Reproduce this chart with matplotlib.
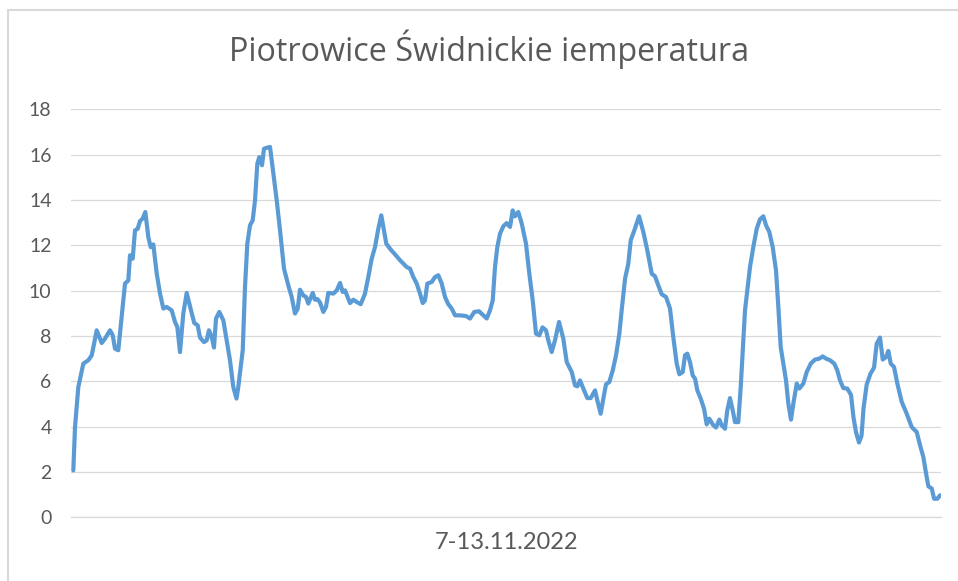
import matplotlib
matplotlib.use('Agg')
import matplotlib.pyplot as plt
from matplotlib.lines import Line2D

# hours since 7.11.2022 00:00 and temperature (deg C)
hours = [
    0.0, 0.33, 0.97, 1.94, 2.91, 3.57, 4.54, 5.50, 6.14, 7.11, 7.64, 8.08, 8.72,
    9.38, 10.02, 10.66, 10.99, 11.51, 11.96, 12.48, 12.93, 13.45, 13.96, 14.54,
    15.00, 15.51, 16.17, 16.81, 17.45, 18.10, 19.07, 19.71, 20.16, 20.68, 21.32,
    21.98, 22.81, 23.45, 24.11, 24.56, 25.33, 25.86, 26.30, 26.83, 27.27, 27.66,
    28.30, 29.08, 29.73, 30.37, 31.01, 31.63, 31.98, 32.84, 33.28, 33.73, 34.25,
    34.77, 35.22, 35.67, 36.05, 36.58, 36.96, 37.60, 38.13, 38.77, 39.43, 40.07,
    40.84, 41.68, 42.33, 42.97, 43.50, 43.94, 44.58, 45.11, 45.55, 46.41, 46.85,
    47.30, 47.82, 48.46, 48.98, 49.43, 50.40, 51.06, 51.70, 52.22, 52.67, 53.64,
    54.28, 54.93, 55.71, 56.54, 57.18, 57.84, 58.48, 59.12, 59.70, 60.09, 60.67,
    61.49, 62.36, 63.33, 64.63, 65.27, 65.91, 66.57, 67.20, 67.73, 68.17, 68.62,
    69.47, 70.11, 70.75, 71.41, 72.05, 72.69, 73.35, 73.99, 74.96, 76.12, 76.90,
    77.73, 78.64, 79.47, 80.13, 80.77, 81.30, 81.74, 82.19, 82.71, 83.35, 84.01,
    84.65, 85.17, 85.62, 86.26, 86.92, 87.75, 88.39, 89.05, 89.69, 90.33, 90.95,
    91.63, 92.07, 92.73, 93.37, 94.15, 94.98, 95.64, 96.61, 97.25, 97.70, 98.22,
    98.86, 99.63, 100.29, 101.13, 101.57, 102.23, 102.74, 103.26, 103.90, 104.56,
    105.20, 105.84, 106.36, 106.95, 107.58, 108.05, 108.75, 109.66, 110.49,
    111.26, 112.12, 112.76, 113.40, 114.05, 114.89, 115.66, 116.30, 116.96,
    117.47, 118.13, 118.57, 119.02, 119.54, 120.06, 120.51, 120.96, 121.61,
    122.25, 122.78, 123.28, 124.00, 124.58, 125.22, 125.68, 126.32, 126.77,
    127.29, 127.82, 128.26, 128.90, 129.37, 129.87, 130.20, 130.65, 131.17,
    131.81, 132.47, 133.11, 133.75, 134.28, 134.91, 135.57, 136.21, 136.66,
    137.12, 137.63, 138.15, 138.60, 139.12, 139.57, 140.23, 140.73, 141.51,
    142.16, 142.94, 143.77, 144.60, 145.26, 145.90, 146.68, 147.51, 148.09,
    148.62, 149.26, 150.03, 150.75, 151.23, 151.72, 152.30, 152.79, 153.17,
    153.79, 154.53, 155.21, 155.73, 156.37, 156.90, 157.54, 157.98, 158.45,
    159.09, 159.73, 160.58, 161.55, 162.52, 163.49, 164.13, 164.77, 165.30,
    165.74, 166.40, 166.85, 167.49, 168.0,
]
temps = [
    2.07, 3.98, 5.75, 6.78, 6.93, 7.15, 8.25, 7.69, 7.88, 8.25, 8.03, 7.44, 7.37,
    8.84, 10.31, 10.45, 11.56, 11.41, 12.66, 12.73, 13.07, 13.18, 13.47, 12.36,
    11.92, 12.04, 10.75, 9.87, 9.21, 9.28, 9.13, 8.62, 8.40, 7.29, 8.99,
    9.90, 9.13, 8.57, 8.47, 7.93, 7.73, 7.81, 8.25, 7.95, 7.49, 8.77,
    9.06, 8.69, 7.81, 6.93, 5.75, 5.24, 5.75, 7.37, 10.16, 12.07, 12.88,
    13.10, 13.98, 15.60, 15.89, 15.53, 16.26, 16.31, 16.34, 15.16, 13.98, 12.66,
    10.97, 10.23, 9.72, 8.99, 9.21, 10.04, 9.79, 9.72, 9.43, 9.90, 9.60,
    9.63, 9.48, 9.06, 9.28, 9.90, 9.87, 10.01, 10.34, 9.94, 10.01, 9.45,
    9.60, 9.50, 9.40, 9.87, 10.60, 11.41, 11.92, 12.73, 13.32, 12.81, 12.07,
    11.82, 11.60, 11.34, 11.04, 10.97, 10.60, 10.31, 9.87, 9.45, 9.57, 10.31,
    10.38, 10.60, 10.68, 10.31, 9.72, 9.40, 9.21, 8.91, 8.91, 8.88, 8.77,
    9.06, 9.09, 8.91, 8.77, 9.13, 9.57, 11.04, 11.92, 12.51, 12.84, 12.98,
    12.81, 13.54, 13.28, 13.47, 12.96, 12.07, 10.75, 9.57, 8.10, 8.03, 8.38,
    8.25, 7.81, 7.29, 7.81, 8.62, 7.88, 6.85, 6.41, 5.82, 5.78, 6.04,
    5.68, 5.26, 5.26, 5.60, 5.16, 4.57, 5.24, 5.87, 5.97, 6.48,
    7.15, 8.10, 9.28, 10.53, 11.19, 12.22, 12.66, 13.28, 12.59,
    11.78, 10.75, 10.63, 10.23, 9.84, 9.72, 9.21, 7.95, 6.78,
    6.31, 6.41, 7.15, 7.22, 6.85, 6.26, 6.12, 5.60, 5.24,
    4.80, 4.10, 4.35, 4.08, 3.96, 4.31, 4.06, 3.91, 4.72,
    5.26, 4.72, 4.20, 4.20, 5.75, 7.81, 9.13, 10.01, 11.04,
    11.92, 12.73, 13.15, 13.28, 12.88, 12.59, 11.92, 10.90, 9.28,
    7.51, 6.78, 6.04, 5.02, 4.31, 5.02, 5.90, 5.68, 5.90,
    6.41, 6.78, 6.96, 7.00, 7.10, 7.00, 6.93, 6.78, 6.48,
    6.04, 5.70, 5.68, 5.40, 4.40, 3.75, 3.30, 3.60, 4.80,
    5.86, 6.34, 6.60, 7.66, 7.93, 6.96, 7.07, 7.34, 6.78,
    6.63, 5.90, 5.09, 4.57, 3.98, 3.76, 3.18, 2.66, 1.93,
    1.37, 1.27, 0.82, 0.82, 0.97,
]
y_ticks = [0, 2, 4, 6, 8, 10, 12, 14, 16, 18]

title = 'Piotrowice Świdnickie iemperatura'
x_label = '7-13.11.2022'

TEXT = '#595959'
GRID = '#d9d9d9'
LINE = '#5b9bd5'

plt.rcParams['font.family'] = ['Lato', 'DejaVu Sans']

fig = plt.figure(figsize=(9.58, 5.81), dpi=100)
ax = fig.add_axes([0.0741, 0.1096, 0.9082, 0.7023])

ax.plot(hours, temps, color=LINE, linewidth=3.0, solid_joinstyle='round',
        solid_capstyle='round')

ax.set_ylim(0, 18)
ax.set_xlim(-0.45, 168.2)
ax.set_yticks(y_ticks)
ax.set_xticks([])
ax.grid(axis='y', color=GRID, linewidth=0.9)
ax.set_axisbelow(True)
for side in ['top', 'right', 'left']:
    ax.spines[side].set_visible(False)
ax.spines['bottom'].set_color(GRID)
ax.spines['bottom'].set_linewidth(0.9)
ax.tick_params(axis='y', length=0, pad=14, labelsize=14, labelcolor=TEXT)

fig.text(0.5104, 0.8950, title, ha='center', va='baseline', fontsize=23.3,
         color=TEXT, family=['Open Sans', 'DejaVu Sans'])
fig.text(0.5282, 0.0546, x_label, ha='center', va='baseline', fontsize=17,
         color=TEXT)

# chart area border (only left and top edges are inside the crop)
fig.add_artist(Line2D([8 / 958, 8 / 958], [0, 1 - 10 / 581], color=GRID,
                      linewidth=1.5, transform=fig.transFigure))
fig.add_artist(Line2D([8 / 958, 1], [1 - 10 / 581, 1 - 10 / 581], color=GRID,
                      linewidth=1.5, transform=fig.transFigure))

fig.savefig('out.png', dpi=100)
